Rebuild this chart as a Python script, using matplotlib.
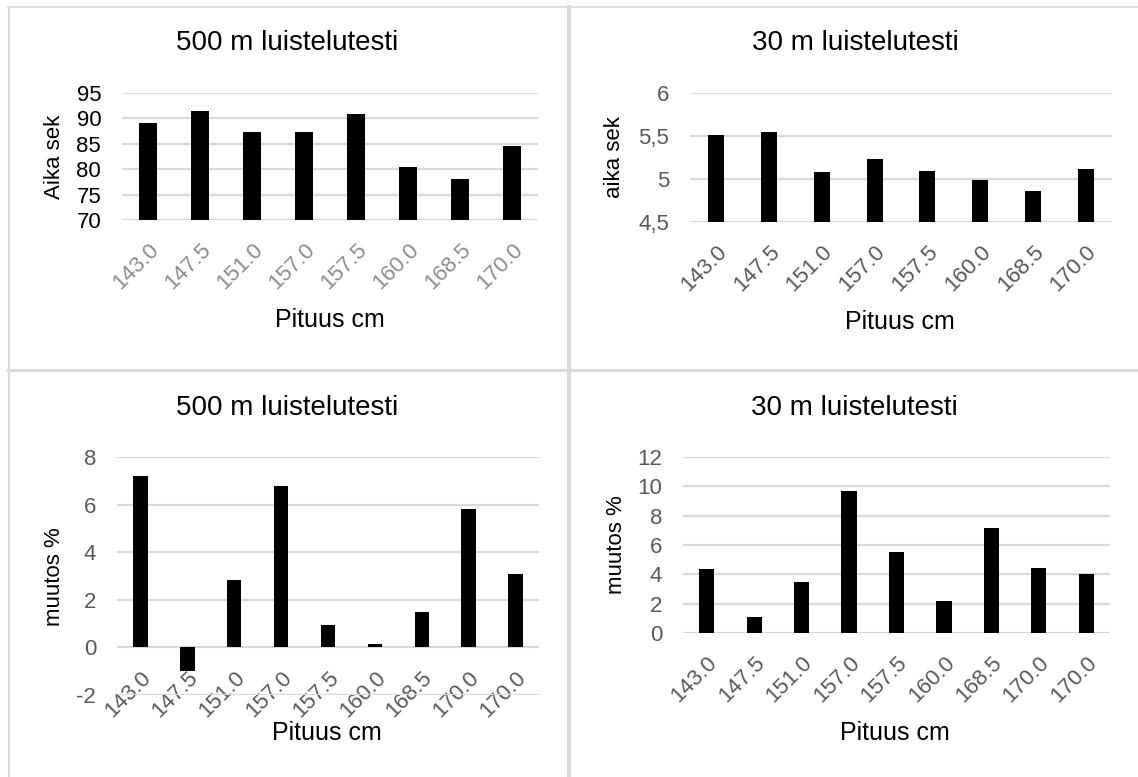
import matplotlib
matplotlib.use("Agg")
import matplotlib.pyplot as plt
from matplotlib.lines import Line2D

plt.rcParams['font.family'] = ['Liberation Sans', 'DejaVu Sans']

# Pituudet (cm) ja mittaustulokset
pituus_ylä = ["143.0", "147.5", "151.0", "157.0", "157.5", "160.0", "168.5", "170.0"]
pituus_ala = ["143.0", "147.5", "151.0", "157.0", "157.5", "160.0", "168.5", "170.0", "170.0"]

aika_500 = [89.1, 91.5, 87.3, 87.3, 90.9, 80.5, 78.0, 84.5]
aika_30 = [5.51, 5.55, 5.08, 5.23, 5.09, 4.99, 4.86, 5.12]
muutos_500 = [7.2, -1.0, 2.85, 6.8, 0.94, 0.14, 1.5, 5.8, 3.1]
muutos_30 = [4.37, 1.09, 3.51, 9.67, 5.52, 2.17, 7.17, 4.44, 4.05]

W, H = 1138, 777
fig = plt.figure(figsize=(W / 100, H / 100), dpi=100)
fig.patch.set_facecolor('white')

GRID = '#d9d9d9'
DARK = '#595959'
TITLE_FS = 20
XLAB_FS = 18
YLAB_FS = 16
TICK_FS = 16


def px_axes(x0, y0, x1, y1):
    # pixel box (top-left origin) -> figure fraction axes
    return fig.add_axes([x0 / W, 1 - y1 / H, (x1 - x0) / W, (y1 - y0) / H])


def px_text(x, y, s, **kw):
    fig.text(x / W, 1 - y / H, s, ha='center', va='center', **kw)


def draw_panel(ax, labels, values, ylim, yticks, yfmt, bar_w, ycol, xcol, zero_axis=False):
    # x-akselin nimiöt nollatasolle (spinen siirto nollaa tickit, joten ensin)
    if zero_axis:
        ax.spines['bottom'].set_position(('data', 0))
    x = list(range(len(labels)))
    ax.bar(x, values, width=bar_w, color='black', zorder=3)
    ax.set_xlim(-0.5, len(labels) - 0.5)
    ax.set_ylim(*ylim)
    ax.set_yticks(yticks)
    ax.set_yticklabels([yfmt(t) for t in yticks])
    ax.set_xticks(x)
    ax.set_xticklabels(labels)
    ax.tick_params(axis='x', length=0, pad=14, labelsize=TICK_FS, labelcolor=xcol)
    ax.tick_params(axis='y', length=0, pad=15, labelsize=TICK_FS, labelcolor=ycol)
    for t in ax.get_xticklabels():
        t.set_rotation(45)
        t.set_ha('right')
        t.set_va('top')
        t.set_rotation_mode('anchor')
    ax.grid(axis='y', color=GRID, linewidth=1.6, zorder=0)
    ax.set_axisbelow(True)
    for s in ax.spines.values():
        s.set_visible(False)
    ax.patch.set_alpha(0)


# 500 m aika
ax1 = px_axes(122, 93, 538, 220)
draw_panel(ax1, pituus_ylä, aika_500, (70, 95), [70, 75, 80, 85, 90, 95],
           lambda v: f"{v:d}", 0.33, 'black', '#8c8c8c')
px_text(287, 43, "500 m luistelutesti", fontsize=TITLE_FS)
px_text(330, 320, "Pituus cm", fontsize=XLAB_FS)
px_text(54, 157, "Aika sek", fontsize=YLAB_FS, rotation=90)

# 30 m aika
ax2 = px_axes(690, 93, 1112, 222)
draw_panel(ax2, pituus_ylä, aika_30, (4.5, 6), [4.5, 5, 5.5, 6],
           lambda v: (f"{v:g}").replace('.', ','), 0.3, DARK, DARK)
px_text(855, 43, "30 m luistelutesti", fontsize=TITLE_FS)
px_text(900, 322, "Pituus cm", fontsize=XLAB_FS)
px_text(614, 157, "aika sek", fontsize=YLAB_FS, rotation=90)

# 500 m muutos
ax3 = px_axes(117, 457, 539, 695)
draw_panel(ax3, pituus_ala, muutos_500, (-2, 8), [-2, 0, 2, 4, 6, 8],
           lambda v: f"{v:d}", 0.31, DARK, DARK, zero_axis=True)
px_text(287, 408, "500 m luistelutesti", fontsize=TITLE_FS)
px_text(327, 733, "Pituus cm", fontsize=XLAB_FS)
px_text(55, 577, "muutos %", fontsize=YLAB_FS, rotation=90)

# 30 m muutos
ax4 = px_axes(683, 457, 1110, 633)
draw_panel(ax4, pituus_ala, muutos_30, (0, 12), [0, 2, 4, 6, 8, 10, 12],
           lambda v: f"{v:d}", 0.32, DARK, DARK)
px_text(854, 408, "30 m luistelutesti", fontsize=TITLE_FS)
px_text(895, 733, "Pituus cm", fontsize=XLAB_FS)
px_text(616, 545, "muutos %", fontsize=YLAB_FS, rotation=90)

# paneelien reunaviivat
def px_line(x0, y0, x1, y1, lw):
    fig.add_artist(Line2D([x0 / W, x1 / W], [1 - y0 / H, 1 - y1 / H],
                          transform=fig.transFigure, color='#dadada', linewidth=lw))

px_line(9, 7, 9, H, 1.6)
px_line(8, 7, W, 7, 1.2)
px_line(569, 7, 569, H, 2.9)
px_line(8, 370, W, 370, 2.2)

fig.savefig("out.png", dpi=100)
